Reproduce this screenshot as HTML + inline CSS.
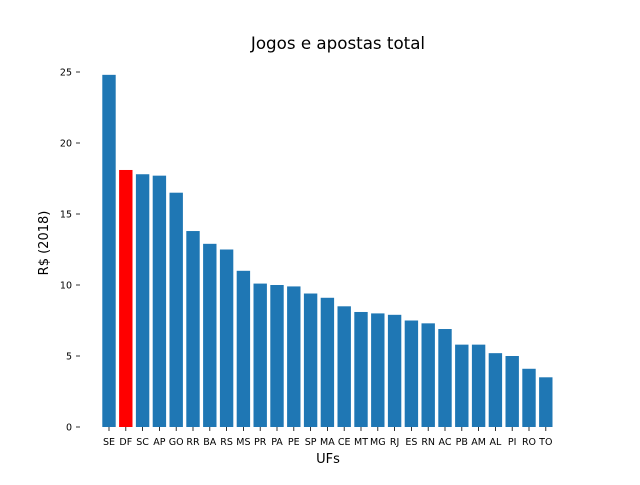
<!DOCTYPE html>
<html><head><meta charset="utf-8"><style>
body{margin:0;background:#fff;}
svg text{font-family:"DejaVu Sans","Liberation Sans",sans-serif;}
</style></head><body>
<svg id="chart" width="640" height="480" xmlns="http://www.w3.org/2000/svg">
<text x="338" y="49" font-size="16.7" text-anchor="middle">Jogos e apostas total</text>
<text x="328" y="463" font-size="13" text-anchor="middle">UFs</text>
<text transform="translate(48,243) rotate(-90)" font-size="13" text-anchor="middle">R$ (2018)</text>
<g id="yaxis"></g><g id="bars"></g><g id="xaxis"></g>
</svg>
<script>
const categories=["SE","DF","SC","AP","GO","RR","BA","RS","MS","PR","PA","PE","SP","MA","CE","MT","MG","RJ","ES","RN","AC","PB","AM","AL","PI","RO","TO"];
const values=[24.8,18.1,17.8,17.7,16.5,13.8,12.9,12.5,11.0,10.1,10.0,9.9,9.4,9.1,8.5,8.1,8.0,7.9,7.5,7.3,6.9,5.8,5.8,5.2,5.0,4.1,3.5];
const highlight=["DF"];
const yTicks=[0,5,10,15,20,25];
const NS="http://www.w3.org/2000/svg";
function y(v){return 427-v*14.2;}
function x(i){return 109+i*16.8;}
const bw=13.4;
const yg=document.getElementById('yaxis'),bg=document.getElementById('bars'),xg=document.getElementById('xaxis');
yTicks.forEach(t=>{
 const l=document.createElementNS(NS,'line');
 l.setAttribute('x1',76);l.setAttribute('x2',80);l.setAttribute('y1',y(t));l.setAttribute('y2',y(t));l.setAttribute('stroke','#000');l.setAttribute('stroke-width','0.8');
 
 
 yg.appendChild(l);
 const tx=document.createElementNS(NS,'text');
 tx.setAttribute('x',72);tx.setAttribute('y',y(t)+3.5);tx.setAttribute('font-size','9.5');tx.setAttribute('text-anchor','end');tx.textContent=t;
 
 
 yg.appendChild(tx);
});
categories.forEach((c,i)=>{
 const r=document.createElementNS(NS,'rect');
 r.setAttribute('x',x(i)-bw/2);r.setAttribute('y',y(values[i]));r.setAttribute('width',bw);r.setAttribute('height',y(0)-y(values[i]));
 r.setAttribute('fill',highlight.includes(c)?'#ff0000':'#1f77b4');
 
 
 bg.appendChild(r);
 const l=document.createElementNS(NS,'line');
 l.setAttribute('x1',x(i));l.setAttribute('x2',x(i));l.setAttribute('y1',427);l.setAttribute('y2',431);l.setAttribute('stroke','#000');l.setAttribute('stroke-width','0.8');
 
 
 xg.appendChild(l);
 const tx=document.createElementNS(NS,'text');
 tx.setAttribute('x',x(i));tx.setAttribute('y',445);tx.setAttribute('font-size','9.5');tx.setAttribute('text-anchor','middle');tx.textContent=c;
 
 
 xg.appendChild(tx);
});
</script>
</body></html>
